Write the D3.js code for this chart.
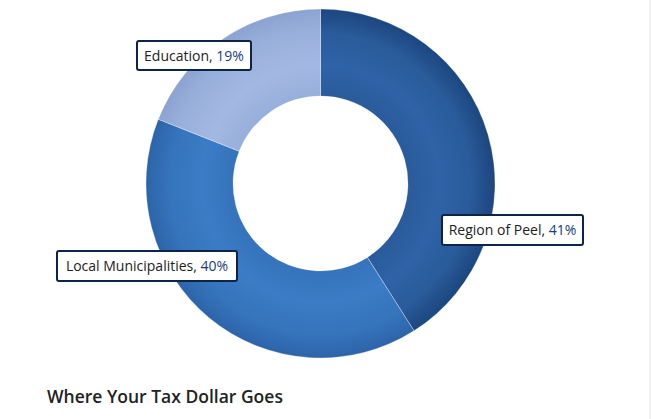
<!DOCTYPE html>
<html><head><meta charset="utf-8">
<script src="https://cdn.jsdelivr.net/npm/d3@7"></script>
<style>
html,body{margin:0;padding:0;background:#fff;}
svg{display:block;font-family:"Open Sans",sans-serif;}
</style></head>
<body>
<svg id="c" width="651" height="419"></svg>
<script>
const categories = ["Region of Peel", "Local Municipalities", "Education"];
const values = [41, 40, 19];
const gradStops = [
  ["#2a5b9b", "#2e63a7", "#2a5b9a", "#1c467f"],
  ["#3573bc", "#3b7cc6", "#3674bc", "#2d64a8"],
  ["#98aedb", "#a3b9e3", "#9ab0dc", "#8ca3d2"]
];
const title = "Where Your Tax Dollar Goes";

const svg = d3.select("#c");
const W = 651, H = 419;
const cx = 320.5, cy = 183.5, rOuter = 174.5, rInner = 87.5;

svg.append("rect").attr("x", 649).attr("y", 0).attr("width", 2).attr("height", H).attr("fill", "#f3f3f3");

const defs = svg.append("defs");
const offs = [0.5, 0.68, 0.86, 1];
gradStops.forEach((cs, i) => {
  const g = defs.append("radialGradient").attr("id", "g" + i)
    .attr("gradientUnits", "userSpaceOnUse")
    .attr("cx", 0).attr("cy", 0).attr("r", rOuter);
  cs.forEach((c, j) => g.append("stop").attr("offset", offs[j]).attr("stop-color", c));
});

const pie = d3.pie().value(d => d).sort(null);
const arcs = pie(values);
const arc = d3.arc().innerRadius(rInner).outerRadius(rOuter);

const gPie = svg.append("g").attr("transform", `translate(${cx},${cy})`);
gPie.selectAll("path").data(arcs).join("path")
  .attr("d", arc)
  .attr("fill", (d, i) => `url(#g${i})`)
  .attr("stroke", "rgba(255,255,255,0.3)")
  .attr("stroke-width", 1);

// labels
const labelPos = [
  {x: 441, y: 214, w: 143, h: 32},
  {x: 56, y: 250, w: 182, h: 32},
  {x: 136, y: 40, w: 116, h: 31}
];
const gl = svg.append("g");
categories.forEach((cat, i) => {
  const p = labelPos[i];
  const g = gl.append("g").attr("transform", `translate(${p.x},${p.y})`);
  g.append("rect").attr("x", 1).attr("y", 1).attr("width", p.w - 2).attr("height", p.h - 2)
    .attr("rx", 2).attr("fill", "#fff").attr("stroke", "#0d2446").attr("stroke-width", 2);
  const t = g.append("text").attr("x", p.w / 2).attr("y", p.h / 2 + 5)
    .attr("text-anchor", "middle").attr("font-size", 14);
  t.append("tspan").attr("fill", "#222").text(cat + ", ");
  t.append("tspan").attr("fill", "#17407a").text(values[i] + "%");
});

svg.append("text").attr("x", 47).attr("y", 403)
  .attr("font-size", 17.5).attr("font-weight", 600).attr("fill", "#222")
  .text(title);
</script>
</body></html>
